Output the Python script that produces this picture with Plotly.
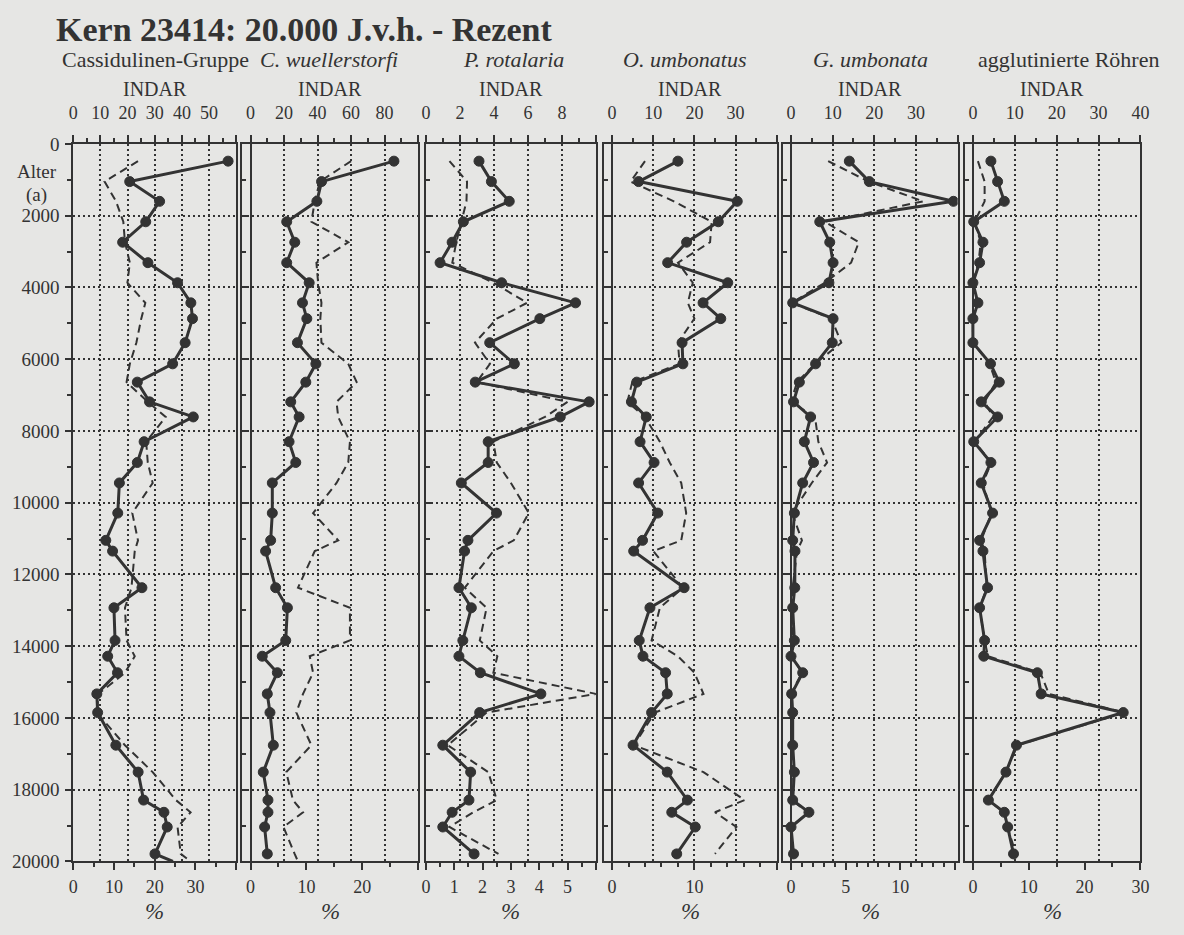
import plotly.graph_objects as go

W, H = 1184, 935

# ---------------- data ----------------
ages = [480, 1050, 1600, 2170, 2740, 3310, 3870, 4430, 4870, 5540, 6130, 6640,
        7190, 7610, 8300, 8880, 9450, 10290, 11050, 11350, 12370, 12930, 13840,
        14280, 14740, 15330, 15850, 16760, 17510, 18290, 18630, 19040, 19790, 20000]

cass_indar = [57, 20.8, 31.8, 26.7, 18.2, 27.5, 38.4, 43.3, 43.9, 41.2, 36.6, 23.6,
              28.1, 44.2, 26.1, 23.6, 17, 16.4, 12, 14.5, 25.3, 15, 15.4, 12.7,
              16.3, 8.7, 9, 15.7, 23.9, 25.9, 33.4, 34.6, 30.1, 36.7]
cass_pct = [15.9, 7.7, 10.5, 12.3, 12.7, 13.9, 13.3, 17.7, 16.7, 15.5, 13.9, 13.1,
            18.3, 22.7, 17.9, 18.3, 19.5, 14.5, 15.9, 15.1, 14.3, 12.7, 13.1, 15.1,
            12.7, 6.2, 5.8, 12.7, 19.5, 25.2, 28.8, 25.6, 26.4, 28.8]

cwuel_indar = [85.6, 42.4, 39.6, 21.6, 26.4, 21.6, 35, 31, 33.6, 28, 39, 33, 24, 29,
               23, 27, 13, 13, 12, 9, 15, 22, 21, 7, 16, 10, 11.6, 13.6, 7.6, 10.4,
               10.4, 8.4, 10, None]
cwuel_pct = [18, 12.4, 11.5, 10.9, 17.5, 11.8, 12.1, 12.7, 12.5, 12.7, 17.5, 19,
             15.4, 15.7, 17.8, 17.5, 15.4, 11.2, 15.7, 11.5, 8.5, 17.8, 17.8, 10.6,
             11.2, 9.4, 8.2, 10.9, 6.4, 7.6, 9.4, 5.9, 7.9, 8.5]

prot_indar = [3.12, 3.85, 4.9, 2.2, 1.54, 0.83, 4.45, 8.8, 6.7, 3.75, 5.2, 2.9, 9.6,
              7.9, 3.66, 3.66, 2.08, 4.15, 2.47, 2.27, 1.94, 2.67, 2.17, 1.94, 3.2,
              6.76, 3.16, 0.99, 2.63, 2.53, 1.54, 0.99, 2.83, None]
prot_pct = [0.83, 1.45, 1.43, 1.25, 1.07, 0.93, 2.38, 3.57, 2.5, 1.73, 2.26, 1.79,
            5.0, 4.2, 2.38, 2.5, 3.0, 3.63, 3.1, 2.38, 1.37, 2.14, 1.9, 2.52, 2.38,
            6.0, 2.14, 0.77, 2.2, 2.5, 1.67, 0.83, 2.56, None]

oumb_indar = [16.0, 6.45, 30.4, 25.8, 18.1, 13.5, 28.1, 22.1, 26.4, 17.0, 17.2, 6.0,
              4.7, 8.3, 6.8, 10.2, 6.45, 11.1, 7.4, 5.25, 17.5, 9.2, 6.6, 7.5, 13.0,
              13.4, 9.6, 5.1, 13.4, 18.3, 14.5, 20.2, 15.7, None]
oumb_pct = [4.0, 2.25, 7.5, 12.1, 11.9, 8.0, 9.8, 9.2, 10, 8.0, 8.2, 2.45, 1.86, 4.0,
            5.8, 7.0, 8.4, 9.0, 8.4, 5.0, 8.6, 5.8, 4.8, 8.0, 10, 11.1, 5.2, 2.65,
            11.1, 16.1, 12.5, 15.1, 12.5, None]

gumb_indar = [14, 18.8, 39, 6.9, 9.3, 10.1, 9.1, 0.4, 10.1, 9.9, 5.9, 2.0, 0.6, 4.7,
              3.2, 5.4, 2.8, 0.8, 0.4, 0.95, 0.9, 0.4, 0.8, 0, 2.8, 0.15, 0.4, 0.4,
              0.8, 0.4, 4.3, 0, 0.6, None]
gumb_pct = [3.4, 7.1, 12.1, 3.1, 6.2, 5.5, 3.1, 0.05, 3.7, 4.6, 2.2, 0.55, 0, 2.2,
            2.5, 3.3, 1.9, 0.1, 1.0, 0.55, 0.15, 0.1, 0.15, 0.1, 1.0, 0, 0, 0.05,
            0.1, 0, 1.6, 0, 0.05, None]

agg_indar = [4.3, 5.9, 7.5, 0.2, 2.4, 1.6, 0, 1.2, 0, 0, 4.2, 6.3, 2.0, 5.9, 0.2,
             4.3, 2.0, 4.7, 1.6, 2.4, 3.5, 1.6, 2.8, 2.6, 15.4, 16.3, 35.9, 10.4,
             7.9, 3.7, 7.5, 8.3, 9.7, None]
agg_pct = [0.9, 2.1, 2.1, 0.3, 1.4, 1.0, 0, 0.6, 0, 0, 3.0, 4.1, 2.1, 3.6, 0.3, 3.3,
           1.8, 3.3, 1.5, 2.1, 2.5, 1.2, 2.1, 2.7, 12.1, 13.6, 27.2, 8.0, 5.9, 2.7,
           5.6, 6.2, 7.7, None]

panel_titles = ["Cassidulinen-Gruppe", "<i>C. wuellerstorfi</i>", "<i>P. rotalaria</i>",
                "<i>O. umbonatus</i>", "<i>G. umbonata</i>", "agglutinierte Röhren"]
title_text = "<b>Kern 23414: 20.000 J.v.h. - Rezent</b>"
age_ticks = list(range(0, 20001, 2000))

# ---------------- styling / layout config ----------------
DARK = '#333333'
BG = '#e6e6e4'
FONT = 'Liberation Serif'
GRIDDASH = '2px,3px'

panels = [
    dict(indar=cass_indar, pct=cass_pct, px=(69, 234), rt=[0, 60], rb=[0, 40],
         tv=[0, 10, 20, 30, 40, 50, 60], tt=['0', '10', '20', '30', '40', '50', ''],
         tm=[5, 15, 25, 35, 45, 55],
         bv=[0, 10, 20, 30, 40], bt=['0', '10', '20', '30', ''], bm=[5, 15, 25, 35],
         cx=152),
    dict(indar=cwuel_indar, pct=cwuel_pct, px=(240, 418), rt=[-5, 100], rb=[-1.5, 30],
         tv=[0, 20, 40, 60, 80, 100], tt=['0', '20', '40', '60', '80', ''],
         tm=[10, 30, 50, 70, 90],
         bv=[0, 10, 20, 30], bt=['0', '10', '20', ''], bm=[5, 15, 25],
         cx=328),
    dict(indar=prot_indar, pct=prot_pct, px=(426, 598), rt=[0, 10], rb=[0, 6],
         tv=[0, 2, 4, 6, 8, 10], tt=['0', '2', '4', '6', '8', ''],
         tm=[1, 3, 5, 7, 9],
         bv=[0, 1, 2, 3, 4, 5, 6], bt=['0', '1', '2', '3', '4', '5', ''],
         bm=[0.5, 1.5, 2.5, 3.5, 4.5, 5.5],
         cx=515),
    dict(indar=oumb_indar, pct=oumb_pct, px=(606, 781), rt=[-2, 40], rb=[-1, 20],
         tv=[0, 10, 20, 30, 40], tt=['0', '10', '20', '30', ''],
         tm=[5, 15, 25, 35],
         bv=[0, 10, 20], bt=['0', '10', ''], bm=[2, 4, 6, 8, 12, 14, 16, 18],
         cx=688),
    dict(indar=gumb_indar, pct=gumb_pct, px=(787, 964), rt=[-2, 40], rb=[-0.76, 15.24],
         tv=[0, 10, 20, 30, 40], tt=['0', '10', '20', '30', ''],
         tm=[5, 15, 25, 35],
         bv=[0, 5, 10, 15], bt=['0', '5', '10', ''],
         bm=[1, 2, 3, 4, 6, 7, 8, 9, 11, 12, 13, 14],
         cx=876),
    dict(indar=agg_indar, pct=agg_pct, px=(971, 1149), rt=[-2, 40], rb=[-1.5, 30],
         tv=[0, 10, 20, 30, 40], tt=['0', '10', '20', '30', '40'],
         tm=[5, 15, 25, 35],
         bv=[0, 10, 20, 30], bt=['0', '10', '20', '30'], bm=[5, 15, 25],
         cx=1076),
]

Y_TOP, Y_BOT = 137, 871
ydom = [1 - Y_BOT / H, 1 - Y_TOP / H]

fig = go.Figure()
layout = dict(
    width=W, height=H, autosize=False,
    margin=dict(l=0, r=0, t=0, b=0, pad=0),
    paper_bgcolor=BG, plot_bgcolor=BG,
    showlegend=False,
    font=dict(family=FONT, color=DARK, size=18),
)

tickfont = dict(family=FONT, size=18, color=DARK)

for i, p in enumerate(panels, 1):
    xb = 'x' if i == 1 else f'x{i}'
    xt = f'x{i + 6}'
    yn = 'y' if i == 1 else f'y{i}'
    sizes = [10 if (v is not None and a < 20000) else 0 for v, a in zip(p['indar'], ages)]

    fig.add_trace(go.Scatter(
        x=p['pct'], y=ages, xaxis=xb, yaxis=yn, mode='lines',
        line=dict(color=DARK, width=2, dash='8px,5px'), hoverinfo='skip'))
    fig.add_trace(go.Scatter(
        x=p['indar'], y=ages, xaxis=xt, yaxis=yn, mode='lines+markers',
        line=dict(color=DARK, width=3),
        marker=dict(size=sizes, color=DARK, opacity=1,
                    line=dict(width=1, color=DARK)), hoverinfo='skip'))

    dom = [p['px'][0] / W, p['px'][1] / W]
    layout['xaxis' if i == 1 else f'xaxis{i}'] = dict(
        domain=dom, range=p['rb'], anchor=yn, side='bottom',
        showline=True, linecolor=DARK, linewidth=2, mirror=False,
        ticks='outside', ticklen=7, tickwidth=2, tickcolor=DARK,
        tickmode='array', tickvals=p['bv'], ticktext=p['bt'],
        minor=dict(tickmode='array', tickvals=p['bm'], ticks='outside',
                   ticklen=4, tickwidth=1.5, tickcolor=DARK, showgrid=False),
        showgrid=False, zeroline=False, tickfont=tickfont,
        ticklabelstandoff=1, fixedrange=True)
    layout[f'xaxis{i + 6}'] = dict(
        overlaying=xb, side='top', anchor=yn, range=p['rt'],
        showline=True, linecolor=DARK, linewidth=2,
        ticks='outside', ticklen=7, tickwidth=2, tickcolor=DARK,
        tickmode='array', tickvals=p['tv'], ticktext=p['tt'],
        minor=dict(tickmode='array', tickvals=p['tm'], ticks='outside',
                   ticklen=4, tickwidth=1.5, tickcolor=DARK, showgrid=False),
        showgrid=True, gridcolor=DARK, gridwidth=1.5, griddash=GRIDDASH,
        zeroline=True, zerolinecolor=DARK, zerolinewidth=2,
        tickfont=tickfont, ticklabelstandoff=9, fixedrange=True)
    layout['yaxis' if i == 1 else f'yaxis{i}'] = dict(
        domain=ydom, range=[20000, 0], anchor=xb,
        showline=True, mirror=True, linecolor=DARK, linewidth=2,
        ticks='outside' if i == 1 else 'inside', ticklen=6, tickwidth=2, tickcolor=DARK,
        tickmode='array', tickvals=age_ticks, ticktext=[str(v) for v in age_ticks],
        showticklabels=(i == 1),
        minor=dict(tickmode='array', tickvals=list(range(1000, 20000, 2000)),
                   ticks='outside' if i == 1 else 'inside', ticklen=4, tickwidth=1.5,
                   tickcolor=DARK, showgrid=False),
        showgrid=True, gridcolor=DARK, gridwidth=1.5, griddash=GRIDDASH,
        zeroline=False, tickfont=dict(family=FONT, size=19, color=DARK),
        ticklabelstandoff=2, fixedrange=True)

annotations = []
def ann(text, x, y, size, xanchor='center'):
    annotations.append(dict(text=text, x=x / W, y=1 - y / H, xref='paper', yref='paper',
                            xanchor=xanchor, yanchor='middle', showarrow=False,
                            font=dict(family=FONT, size=size, color=DARK)))

ann(title_text, 50, 20, 34, xanchor='left')
for p, t in zip(panels, panel_titles):
    cxp = (p['px'][0] + p['px'][1]) / 2
    ann(t, p['cx'], 51, 22)
    ann('INDAR', cxp, 81, 20)
    ann('<i>%</i>', cxp, 922, 23)
ann('Alter', 32, 165, 19)
ann('(a)', 32, 189, 19)

layout['annotations'] = annotations
fig.update_layout(**layout)
fig.write_html('out.html', include_plotlyjs=True, config={'displayModeBar': False})
